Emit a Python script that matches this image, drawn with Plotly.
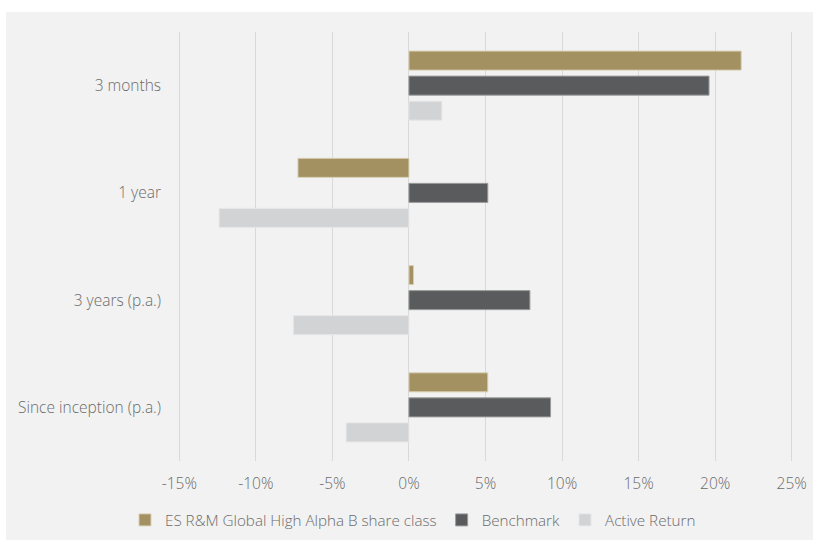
import plotly.graph_objects as go

categories = ["3 months", "1 year", "3 years (p.a.)", "Since inception (p.a.)"]
fund = [21.7, -7.25, 0.3, 5.15]
benchmark = [19.6, 5.15, 7.9, 9.25]
active = [2.15, -12.4, -7.55, -4.1]
series_names = ["ES R&M Global High Alpha B share class", "Benchmark", "Active Return"]
colors = ["#A39161", "#5A5B5D", "#D2D3D5"]
outline = ["#D8CFB5", "#9A9B9C", "#E6E6E7"]
tick_vals = [-15, -10, -5, 0, 5, 10, 15, 20, 25]
tick_text = ["-15%", "-10%", "-5%", "0%", "5%", "10%", "15%", "20%", "25%"]

W, H = 813, 540
L, R, T, B = 177, 794, 32, 461

fig = go.Figure()
for name, vals, c, oc in zip(series_names, [fund, benchmark, active], colors, outline):
    fig.add_trace(go.Bar(
        y=categories, x=vals, orientation="h", name=name,
        marker=dict(color=c, line=dict(color=oc, width=1)),
        hoverinfo="skip",
    ))

pw, ph = R - L, B - T
fig.add_shape(type="rect", xref="paper", yref="paper",
              x0=(6 - L) / pw, x1=(W - L) / pw,
              y0=(B - H) / ph, y1=(B - 12) / ph,
              fillcolor="#F2F2F2", line=dict(width=0), layer="below")

font = dict(family="Open Sans", size=15.5, color="#6B6B6B", weight=300)
legend_font = dict(family="Open Sans", size=15.2, color="#6B6B6B", weight=300)

fig.update_layout(
    width=W, height=H,
    margin=dict(l=L, r=W - R, t=T, b=H - B, autoexpand=False),
    paper_bgcolor="white", plot_bgcolor="rgba(0,0,0,0)",
    barmode="group", bargap=0.30, bargroupgap=0.24,
    font=font,
    showlegend=True,
    legend=dict(orientation="h", x=(413 - L) / pw, xanchor="center", y=(B - 520) / ph, yanchor="middle",
                font=legend_font, bgcolor="rgba(0,0,0,0)", traceorder="normal", itemwidth=30),
    xaxis=dict(range=[-15.15, 25.15], tickvals=tick_vals, ticktext=tick_text,
               showgrid=True, gridcolor="#D9D9D9", gridwidth=1,
               zeroline=True, zerolinecolor="#D9D9D9", zerolinewidth=1,
               showline=False, ticks="", ticklabelstandoff=11, tickfont=font, fixedrange=True),
    yaxis=dict(autorange="reversed", showgrid=False, zeroline=False, showline=False,
               ticks="", ticklabelstandoff=15, tickfont=font, fixedrange=True),
)

fig.write_html("out.html")
